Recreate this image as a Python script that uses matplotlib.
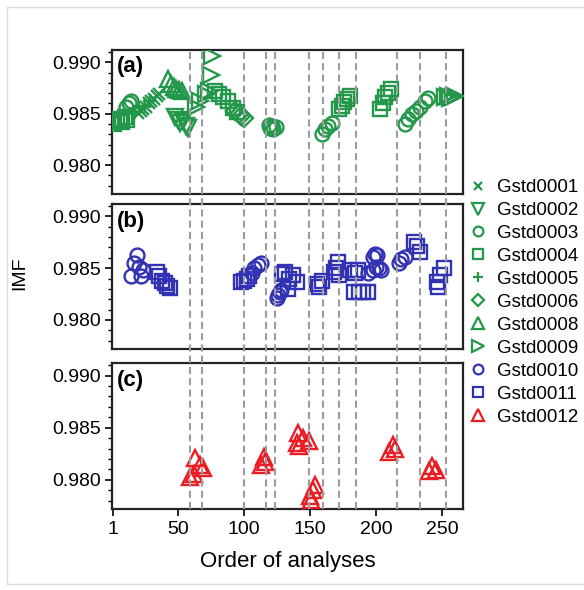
"""IMF of the Gstd standards against the order of analyses, three stacked panels."""
import matplotlib
matplotlib.use("Agg")
import matplotlib.pyplot as plt
from matplotlib.lines import Line2D
from matplotlib.patches import Rectangle
from matplotlib.ticker import MultipleLocator, FormatStrFormatter
from matplotlib.transforms import blended_transform_factory

plt.rcParams["font.family"] = ["Liberation Sans", "DejaVu Sans"]

# session boundaries (order of analyses)
session_breaks = [59, 68.5, 100, 117, 123.5, 149, 160, 172, 185, 216, 233, 253]

# panel (a)
g0001_x = [20, 22, 24, 26, 28, 30, 32, 34, 36]
g0001_imf = [0.9851, 0.9853, 0.9855, 0.9857, 0.9860, 0.9862, 0.9864, 0.9867, 0.9869]
g0002_x = [48, 50, 52, 54, 56, 58]
g0002_imf = [0.9847, 0.9844, 0.9841, 0.9843, 0.9838, 0.9836]
g0003_x = [11, 13, 15, 119, 120, 121, 122, 124, 159, 161, 164, 167,
           222, 224, 227, 230, 233, 237, 239]
g0003_imf = [0.9857, 0.9860, 0.9862, 0.9839, 0.9836, 0.9838, 0.9835, 0.9837,
             0.9830, 0.9835, 0.9838, 0.9841,
             0.9840, 0.9845, 0.9850, 0.9853, 0.9857, 0.9862, 0.9865]
g0004_x = [2, 4, 6, 8, 10, 12, 78, 81, 84, 88, 92, 95,
           172, 174, 176, 178, 180, 203, 205, 207, 209, 211]
g0004_imf = [0.9840, 0.9843, 0.9845, 0.9842, 0.9847, 0.9844,
             0.9872, 0.9869, 0.9866, 0.9862, 0.9856, 0.9852,
             0.9855, 0.9858, 0.9861, 0.9864, 0.9867,
             0.9855, 0.9860, 0.9866, 0.9870, 0.9874]
g0005_x = [18, 21, 25, 29]
g0005_imf = [0.9852, 0.9856, 0.9858, 0.9862]
g0006_x = [93, 96, 98, 100]
g0006_imf = [0.9853, 0.9850, 0.9848, 0.9846]
g0008_x = [43, 45, 47, 49, 51, 53]
g0008_imf = [0.9884, 0.9879, 0.9876, 0.9874, 0.9873, 0.9872]
g0009_x = [64, 67, 71, 74, 75, 76, 252, 254, 256, 258, 260]
g0009_imf = [0.9857, 0.9862, 0.9869, 0.9872, 0.9888, 0.9906,
             0.9866, 0.9867, 0.9865, 0.9866, 0.9867]

# panel (b)
g0010_x = [15, 17, 19, 21, 22, 24, 106, 108, 111, 113, 125, 126, 127, 128,
           194, 198, 200, 202, 204, 198, 199, 201, 217, 219, 222]
g0010_imf = [0.9842, 0.9855, 0.9863, 0.9851, 0.9842, 0.9848,
             0.9845, 0.9850, 0.9853, 0.9855,
             0.9821, 0.9824, 0.9827, 0.9829,
             0.9845, 0.9848, 0.9851, 0.9850, 0.9848, 0.9861, 0.9864, 0.9863,
             0.9855, 0.9859, 0.9861]
g0011_x = [34, 36, 38, 40, 42, 44, 98, 100, 102, 104,
           129, 131, 133, 134, 137, 140, 155, 157, 159,
           168, 170, 171, 172, 180, 184, 186, 183, 187, 190, 194,
           229, 231, 233, 246, 247, 248, 251]
g0011_imf = [0.9846, 0.9842, 0.9838, 0.9836, 0.9833, 0.9831,
             0.9837, 0.9838, 0.9840, 0.9842,
             0.9844, 0.9846, 0.9830, 0.9840, 0.9843, 0.9837,
             0.9835, 0.9832, 0.9838,
             0.9846, 0.9850, 0.9856, 0.9843, 0.9848, 0.9845, 0.9848,
             0.9827, 0.9827, 0.9827, 0.9827,
             0.9875, 0.9871, 0.9866, 0.9837, 0.9832, 0.9843, 0.9850]

# panel (c)
g0012_x = [59, 62, 63, 67, 69, 113, 115, 116, 140, 141, 142, 145, 149,
           150, 151, 152, 154, 210, 213, 214, 240, 242, 245]
g0012_imf = [0.9803, 0.9806, 0.9821, 0.9814, 0.9811,
             0.9814, 0.9822, 0.9817,
             0.9835, 0.9845, 0.9832, 0.9840, 0.9837,
             0.9784, 0.9781, 0.9790, 0.9795,
             0.9827, 0.9833, 0.9830,
             0.9808, 0.9813, 0.9809]

GREEN, BLUE, RED = "#23974a", "#3232b4", "#ec1c24"

# (label, x, imf, marker, colour, size, panel)
series = [
    ("Gstd0001", g0001_x, g0001_imf, "x", GREEN, 9, 0),
    ("Gstd0002", g0002_x, g0002_imf, "v", GREEN, 11.5, 0),
    ("Gstd0003", g0003_x, g0003_imf, "o", GREEN, 10, 0),
    ("Gstd0004", g0004_x, g0004_imf, "s", GREEN, 10, 0),
    ("Gstd0005", g0005_x, g0005_imf, "+", GREEN, 10, 0),
    ("Gstd0006", g0006_x, g0006_imf, "D", GREEN, 9, 0),
    ("Gstd0008", g0008_x, g0008_imf, "^", GREEN, 11.5, 0),
    ("Gstd0009", g0009_x, g0009_imf, ">", GREEN, 11.5, 0),
    ("Gstd0010", g0010_x, g0010_imf, "o", BLUE, 10, 1),
    ("Gstd0011", g0011_x, g0011_imf, "s", BLUE, 10, 1),
    ("Gstd0012", g0012_x, g0012_imf, "^", RED, 12, 2),
]

W, H = 584, 590
fig = plt.figure(figsize=(W / 100, H / 100), dpi=100)

# (top, bottom) of each panel in pixels
panel_px = [(50, 194), (204, 349), (363, 509)]
left_px, right_px = 112, 463
axes = []
for top, bottom in panel_px:
    ax = fig.add_axes([left_px / W, 1 - bottom / H,
                       (right_px - left_px) / W, (bottom - top) / H])
    ax.set_facecolor("none")
    axes.append(ax)

for label, x, imf, marker, color, size, panel in series:
    axes[panel].plot(x, imf, linestyle="none", marker=marker, ms=size,
                     mfc="none", mec=color, mew=1.7, label=label, zorder=3)

for i, ax in enumerate(axes):
    ax.set_xlim(0.3, 265.7)
    ax.set_ylim(0.9772, 0.9912)
    ax.yaxis.set_major_locator(MultipleLocator(0.005))
    ax.yaxis.set_minor_locator(MultipleLocator(0.001))
    ax.yaxis.set_major_formatter(FormatStrFormatter("%.3f"))
    ax.tick_params(axis="y", which="major", direction="out", length=5,
                   width=1.2, labelsize=14, pad=3)
    ax.tick_params(axis="y", which="minor", direction="out", length=3, width=1.0)
    for sp in ax.spines.values():
        sp.set_linewidth(1.6)
        sp.set_color("#222222")
    ax.text(0.015, 0.955, "(" + "abc"[i] + ")", transform=ax.transAxes,
            fontsize=16, fontweight="bold", va="top", ha="left")
    if i < 2:
        ax.tick_params(axis="x", bottom=False, labelbottom=False)

axes[2].set_xticks([1, 50, 100, 150, 200, 250])
axes[2].tick_params(axis="x", direction="out", length=5, width=1.2,
                    labelsize=14, pad=4)
axes[2].set_xlabel("Order of analyses", fontsize=16, labelpad=9)

# dashed session lines run through all three panels
trans = blended_transform_factory(axes[2].transData, fig.transFigure)
for xb in session_breaks:
    fig.add_artist(Line2D([xb, xb], [1 - 509 / H, 1 - 50 / H], transform=trans,
                          color="#9c9c9c", lw=1.5, dashes=(3.4, 2.0), zorder=1))

fig.text(20 / W, 1 - 273 / H, "IMF", rotation=90, fontsize=14,
         ha="center", va="center")

handles = [Line2D([], [], linestyle="none", marker=m, ms=s * 0.7, mfc="none",
                  mec=c, mew=1.6, label=lab)
           for lab, _, _, m, c, s, _ in series]
fig.legend(handles=handles, loc="upper left",
           bbox_to_anchor=(469 / W, 1 - 179 / H), frameon=False, fontsize=13.5,
           handlelength=1.0, handletextpad=0.5, labelspacing=0.31,
           borderpad=0, borderaxespad=0)

fig.add_artist(Rectangle((7 / W, 1 - 584 / H), (W + 10) / W, 577 / H,
                         transform=fig.transFigure, fill=False,
                         edgecolor="#dcdcdc", lw=1.0))

fig.savefig("out.png", dpi=100)
